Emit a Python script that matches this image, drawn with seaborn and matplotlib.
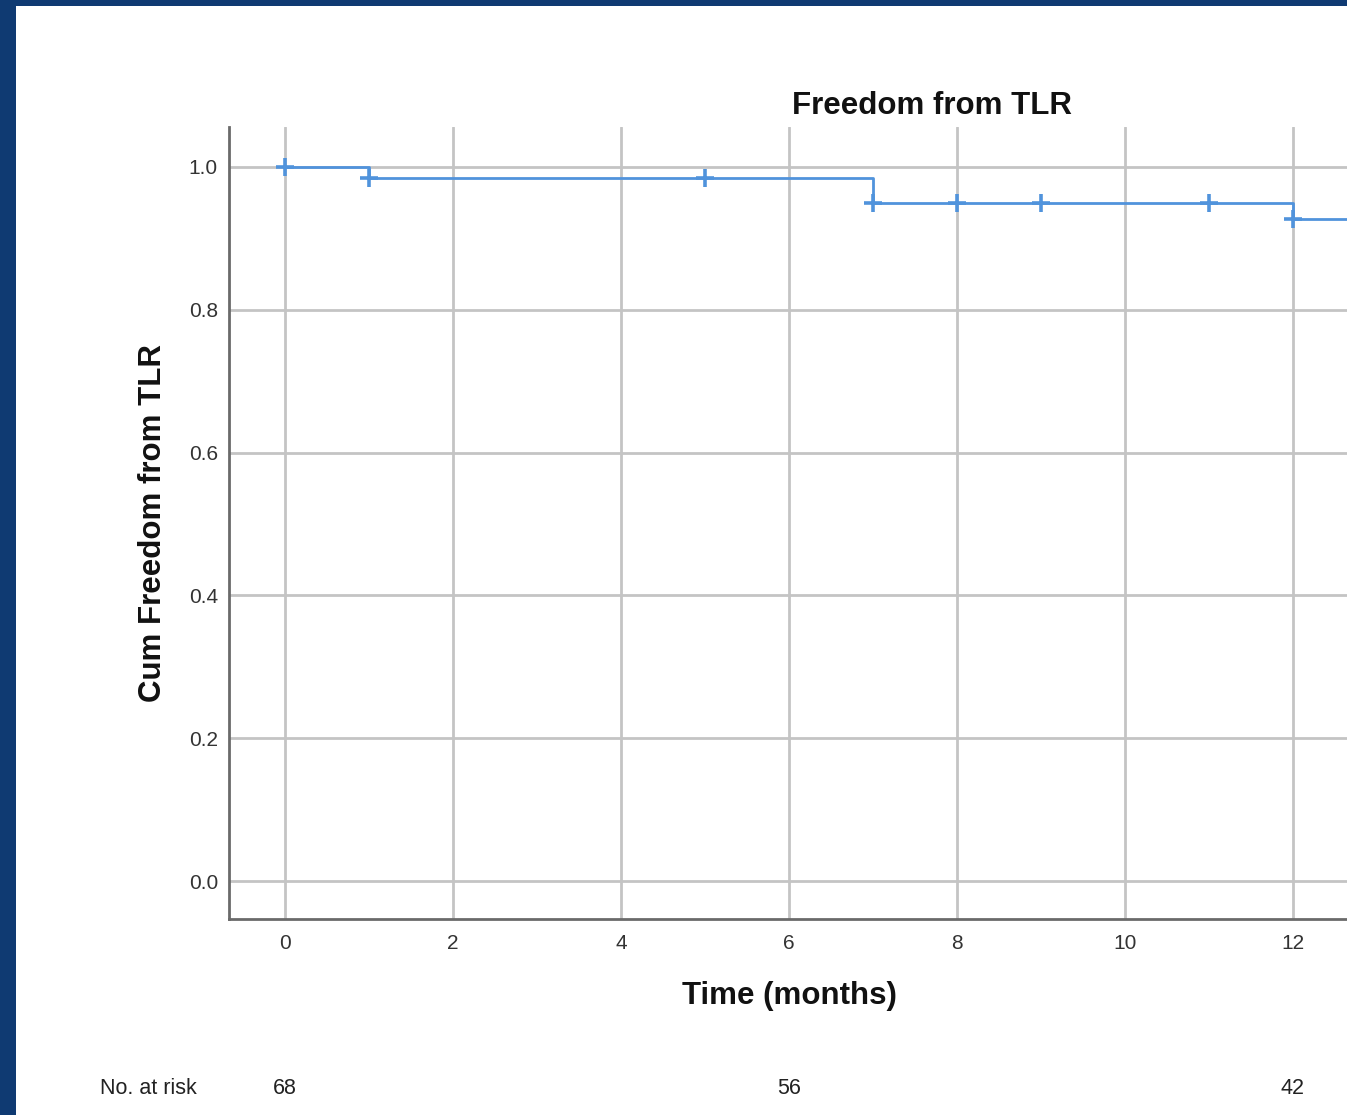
import numpy as np
import pandas as pd
import matplotlib
matplotlib.use("Agg")
import matplotlib.pyplot as plt
import seaborn as sns
from matplotlib.patches import Rectangle

sns.set_style("white")
plt.rcParams['font.family'] = ['Liberation Sans', 'DejaVu Sans']

# Kaplan-Meier step values
step_time = [0, 1, 7, 12, 13]
step_surv = [1.0, 0.985, 0.950, 0.927, 0.927]

# censored observations
cens_time = [0, 1, 5, 7, 8, 9, 11, 12]
cens_surv = [1.0, 0.985, 0.985, 0.950, 0.950, 0.950, 0.950, 0.927]

risk_time = [0, 6, 12]
risk_n = [68, 56, 42]

x_ticks = [0, 2, 4, 6, 8, 10, 12]
y_ticks = [0.0, 0.2, 0.4, 0.6, 0.8, 1.0]

blue = '#5093dc'

fig = plt.figure(figsize=(13.47, 11.15), dpi=100)
fig.patch.set_facecolor('#0f3a72')

# white slide area behind the chart
bg = fig.add_axes([0, 0, 1, 1], zorder=-10)
bg.axis('off')
bg.add_patch(Rectangle((16/1347, 0), 1, 1 - 6/1115, transform=bg.transAxes,
                       facecolor='white', edgecolor='none'))

ax = fig.add_axes([229/1347, 1 - 919/1115, 1120/1347, 792/1115])
ax.set_facecolor('white')

df_step = pd.DataFrame({'t': step_time, 's': step_surv})
df_cens = pd.DataFrame({'t': cens_time, 's': cens_surv})

sns.lineplot(data=df_step, x='t', y='s', drawstyle='steps-post', color=blue,
             linewidth=2, ax=ax, zorder=3)
sns.scatterplot(data=df_cens, x='t', y='s', marker='+', s=150, linewidth=2.6,
                color=blue, ax=ax, zorder=4)

ax.set_xlim(-0.667, 12.667)
ax.set_ylim(-0.053, 1.056)
ax.set_xticks(x_ticks)
ax.set_yticks(y_ticks)
ax.set_yticklabels([f"{v:.1f}" for v in y_ticks])
ax.tick_params(axis='both', length=0, labelsize=15, colors='#333333')
ax.tick_params(axis='x', pad=11)
ax.tick_params(axis='y', pad=8)
ax.grid(True, color='#c4c4c4', linewidth=2)
ax.set_axisbelow(True)

for s in ['top', 'right']:
    ax.spines[s].set_visible(False)
for s in ['left', 'bottom']:
    ax.spines[s].set_color('#6a6a6a')
    ax.spines[s].set_linewidth(2)

ax.set_xlabel("Time (months)", fontsize=22.5, fontweight='bold', labelpad=20, color='#111111')
ax.set_ylabel("Cum Freedom from TLR", fontsize=22.5, fontweight='bold', labelpad=15, color='#111111')

fig.text(932/1347, 1 - 106/1115, "Freedom from TLR", fontsize=22.5, fontweight='bold',
         ha='center', va='center', color='#111111')

# numbers at risk
fig.text(100/1347, 1 - 1088/1115, "No. at risk", fontsize=15.5, ha='left', va='center', color='#222222')
for t, n in zip(risk_time, risk_n):
    ax.text(t, -0.29, str(n), fontsize=15.5, ha='center', va='center', color='#222222',
            clip_on=False)

fig.savefig("out.png", dpi=100, facecolor=fig.get_facecolor())
